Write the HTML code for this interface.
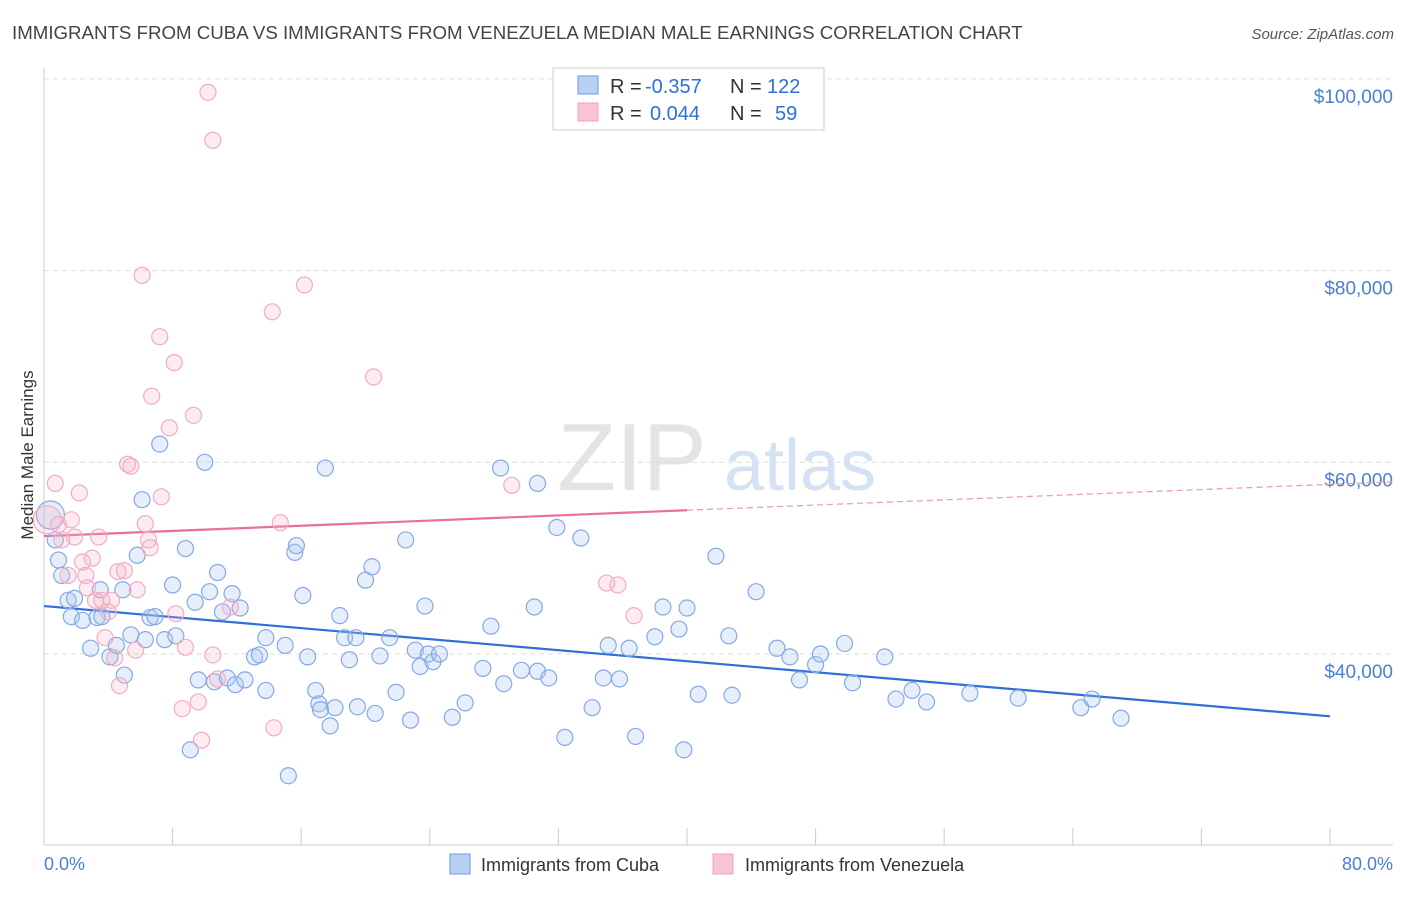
<!DOCTYPE html>
<html><head><meta charset="utf-8">
<style>
body{margin:0;background:#fff;font-family:"Liberation Sans",sans-serif;}
svg text{font-family:"Liberation Sans",sans-serif;}
</style></head>
<body>
<svg id="chart" width="1406" height="892" viewBox="0 0 1406 892" xmlns="http://www.w3.org/2000/svg">
<text x="12" y="39" font-size="18.7" fill="#444">IMMIGRANTS FROM CUBA VS IMMIGRANTS FROM VENEZUELA MEDIAN MALE EARNINGS CORRELATION CHART</text>
<text x="1394" y="39" font-size="15" fill="#555" text-anchor="end" font-style="italic">Source: ZipAtlas.com</text>
<g>
<text x="632" y="490" font-size="96" fill="#e4e4e4" text-anchor="middle" font-family="Liberation Serif">ZIP</text>
<text x="800" y="490" font-size="72" fill="#d5e2f3" text-anchor="middle">atlas</text>
</g>
<g id="grid"></g>
<g id="axes"></g>
<g id="trends"></g>
<g id="points"></g>
<text transform="translate(33,455) rotate(-90)" font-size="17" fill="#333" text-anchor="middle">Median Male Earnings</text>
<text x="44" y="870" font-size="18" fill="#4a7fd4">0.0%</text>
<text x="1393" y="870" font-size="18" fill="#4a7fd4" text-anchor="end">80.0%</text>
<g>
<rect x="553" y="68" width="271" height="62" fill="#fff" stroke="#ccc"/>
<rect x="578" y="76" width="20" height="18" fill="#b9d0f5" stroke="#6f9be0"/>
<rect x="578" y="103" width="20" height="18" fill="#f8c4d4" stroke="#f0a0bb"/>
<text x="610" y="93" font-size="20" fill="#333">R =</text>
<text x="645" y="93" font-size="20" fill="#2f6fd6">-0.357</text>
<text x="730" y="93" font-size="20" fill="#333">N =</text>
<text x="767" y="93" font-size="20" fill="#2f6fd6">122</text>
<text x="610" y="120" font-size="20" fill="#333">R =</text>
<text x="650" y="120" font-size="20" fill="#2f6fd6">0.044</text>
<text x="730" y="120" font-size="20" fill="#333">N =</text>
<text x="775" y="120" font-size="20" fill="#2f6fd6">59</text>
</g>
<g>
<rect x="450" y="854" width="20" height="20" fill="#b9d0f5" stroke="#6f9be0"/>
<text x="481" y="871" font-size="18" fill="#333">Immigrants from Cuba</text>
<rect x="713" y="854" width="20" height="20" fill="#f8c4d4" stroke="#f0a0bb"/>
<text x="745" y="871" font-size="18" fill="#333">Immigrants from Venezuela</text>
</g>
</svg>
<script>
const cubaX=[0.4,0.7,0.9,1.1,1.5,1.9,1.7,2.4,2.9,3.3,3.6,3.5,4.1,4.5,5.0,4.9,5.4,5.8,6.1,6.3,6.6,6.9,7.2,7.5,8.0,8.2,8.8,9.1,9.4,9.6,10.0,10.3,10.6,10.8,11.1,11.4,11.7,11.9,12.2,12.5,13.1,13.4,13.8,13.8,15.0,15.2,15.6,15.7,16.1,16.4,16.9,17.1,17.2,17.5,17.8,18.1,18.4,18.7,19.0,19.4,19.5,20.0,20.4,20.6,20.9,21.5,21.9,22.5,22.8,23.1,23.4,23.7,23.9,24.2,24.6,25.4,26.2,27.3,27.8,28.4,28.6,29.7,30.5,30.7,30.7,31.4,31.9,32.4,33.4,34.1,34.8,35.1,35.8,36.4,36.8,38.0,38.5,39.5,39.8,40.0,40.7,41.8,42.6,42.8,44.3,45.6,46.4,47.0,48.0,48.3,49.8,50.3,52.3,53.0,54.0,54.9,57.6,60.6,64.5,65.2,67.0];
const cubaY=[54500,51900,49800,48200,45600,45800,43900,43500,40600,43800,43900,46700,39700,40900,37800,46700,42000,50300,56100,41500,43800,43900,61900,41500,47200,41900,51000,30000,45400,37300,60000,46500,37100,48500,44400,37500,46300,36800,44800,37300,39700,39900,36200,41700,40900,27300,50600,51300,46100,39700,36200,34800,34200,59400,32500,34400,44000,41700,39400,41700,34500,47700,49100,33800,39800,41700,36000,51900,33100,40400,38700,45000,40000,39200,40000,33400,34900,38500,42900,59400,36900,38300,44900,38200,57800,37500,53200,31300,52100,34400,37500,40900,37400,40600,31400,41800,44900,42600,30000,44800,35800,50200,41900,35700,46500,40600,39700,37300,38900,40000,41100,37000,39700,35300,36200,35000,35900,35400,34400,35300,33300];
const venX=[0.2,0.7,0.9,1.1,1.5,1.7,1.9,2.2,2.4,2.6,2.7,3.0,3.2,3.4,3.6,3.8,4.0,4.2,4.4,4.6,4.7,5.0,5.2,5.4,5.7,5.8,6.1,6.3,6.5,6.6,6.7,7.2,7.3,7.8,8.1,8.2,8.6,8.8,9.3,9.6,9.8,10.2,10.5,10.5,10.8,11.6,14.2,14.3,14.7,16.2,20.5,29.1,35.0,35.7,36.7];
const venY=[54000,57800,53500,51900,48200,54000,52200,56800,49600,48200,46900,50000,45600,52200,45600,41700,44400,45600,39600,48600,36700,48700,59800,59600,40400,46700,79500,53600,51900,51100,66900,73100,56400,63600,70400,44200,34300,40700,64900,35000,31000,98600,93600,39900,37400,44900,75700,32300,53700,78500,68900,57600,47400,47200,44000];
const cubaTrend=[45000,33500];   // at x=0 and x=80
const venTrend=[52300,55000];    // at x=0 and x=40
const yTicks=[100000,80000,60000,40000];
const yTickLabels=["$100,000","$80,000","$60,000","$40,000"];
const xTicks=[0,8,16,24,32,40,48,56,64,72,80];

const X0=44,X1=1330,Y40=654,PXPER=191.7/20000;
const sx=v=>X0+(v/80)*(X1-X0);
const sy=v=>Y40-(v-40000)*PXPER;
const NS="http://www.w3.org/2000/svg";
function mk(tag,attrs,parent){const e=document.createElementNS(NS,tag);for(const k in attrs)e.setAttribute(k,attrs[k]);parent.appendChild(e);return e;}
const grid=document.getElementById('grid'),axes=document.getElementById('axes'),tr=document.getElementById('trends'),pts=document.getElementById('points');
yTicks.forEach((t,i)=>{
 const l=mk('line',{x1:X0,x2:1393,y1:sy(t),y2:sy(t),stroke:'#ddd','stroke-dasharray':'5,4'},grid);
 
 
 const tx=mk('text',{x:1393,y:sy(t)+24,'font-size':19,fill:'#4a7fd4','text-anchor':'end'},grid);
 tx.textContent=yTickLabels[i];
 
 
});
const ta=mk('line',{x1:X0,x2:X0,y1:68,y2:845,stroke:'#ccc'},axes);


const xa=mk('line',{x1:X0,x2:1393,y1:845,y2:845,stroke:'#ccc'},axes);


xTicks.forEach(t=>{
 const l=mk('line',{x1:sx(t),x2:sx(t),y1:828,y2:845,stroke:'#ccc'},axes);
 
 
});
function pt(x,y,r,fill,stroke,name){
 const c=mk('circle',{cx:sx(x),cy:sy(y),r:r,fill:fill,stroke:stroke,'stroke-width':1.2},pts);
 
 
}
cubaX.forEach((x,i)=>pt(x,cubaY[i],i===0?14:8,'rgba(170,198,240,0.3)','#84a9e6','point-cuba'));
venX.forEach((x,i)=>pt(x,venY[i],i===0?14:8,'rgba(245,180,200,0.25)','#f2abc3','point-venezuela'));
const bl=mk('line',{x1:sx(0),y1:sy(cubaTrend[0]),x2:sx(80),y2:sy(cubaTrend[1]),stroke:'#2f6fd6','stroke-width':2.2},tr);


const slope=(venTrend[1]-venTrend[0])/40;
const xEnd=(1393-X0)/(X1-X0)*80;
const pl=mk('line',{x1:sx(0),y1:sy(venTrend[0]),x2:sx(40),y2:sy(venTrend[1]),stroke:'#e8709a','stroke-width':2.2},tr);


const pd=mk('line',{x1:sx(40),y1:sy(venTrend[1]),x2:sx(xEnd),y2:sy(venTrend[0]+slope*xEnd),stroke:'#e8a0b8','stroke-width':1.3,'stroke-dasharray':'6,4'},tr);


</script>
</body></html>
